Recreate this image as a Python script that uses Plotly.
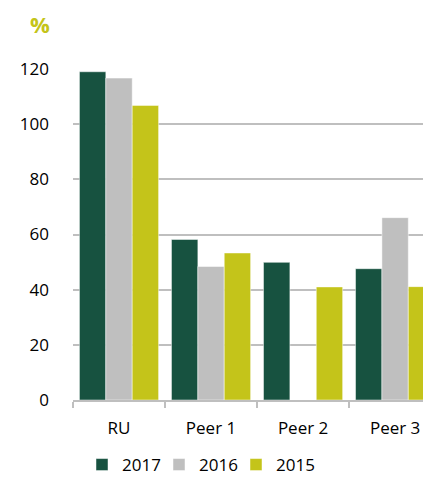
import plotly.graph_objects as go

categories = ["RU", "Peer 1", "Peer 2", "Peer 3"]
v2017 = [119, 58.2, 49.9, 47.6]
v2016 = [116.7, 48.4, None, 66.1]
v2015 = [106.8, 53.3, 41, 41.1]
series_names = ["2017", "2016", "2015"]
colors = ["#175240", "#BFBFBF", "#C4C41A"]
y_ticks = [0, 20, 40, 60, 80, 100, 120]

W, H = 423, 470
L, R, T, B = 65, 0, 61, 78
pw, ph = W - L - R, H - T - B

legend_ids = ["legend", "legend2", "legend3"]
legend_x = [74, 151, 228]

fig = go.Figure()
for name, vals, col, lid in zip(series_names, [v2017, v2016, v2015], colors, legend_ids):
    fig.add_trace(go.Bar(
        x=categories, y=vals, name=name, legend=lid,
        marker=dict(color=col, line=dict(color="rgba(255,255,255,0.6)", width=0.8)),
    ))

fig.update_layout(
    width=W, height=H,
    margin=dict(l=L, r=R, t=T, b=B),
    paper_bgcolor="white", plot_bgcolor="white",
    barmode="group", bargap=0.14, bargroupgap=0,
    font=dict(family="Open Sans", size=17, color="#000000"),
    showlegend=True,
)
for lid, lx in zip(legend_ids, legend_x):
    fig.update_layout({lid: dict(
        orientation="h", x=lx / W, xanchor="left", xref="container",
        y=13 / H, yanchor="middle", yref="container",
        font=dict(size=17), bgcolor="rgba(0,0,0,0)",
    )})

fig.add_annotation(
    text="<b>%</b>", xref="paper", yref="paper",
    x=(31.5 - L) / pw, y=1 + (T - 16) / ph, xanchor="center", yanchor="middle",
    showarrow=False, font=dict(family="Open Sans", size=22, color="#C4C41A"),
)

fig.update_xaxes(
    range=[-0.5, 3.39], tickson="boundaries", ticks="outside", ticklen=6,
    tickcolor="#BFBFBF", tickwidth=2, showline=True, linecolor="#BFBFBF", linewidth=2,
    showgrid=False, ticklabelstandoff=12,
)
fig.update_yaxes(
    range=[0, 120], tickvals=y_ticks, showgrid=True, gridcolor="#BFBFBF", gridwidth=2,
    zeroline=False, showline=False, ticks="", ticklabelstandoff=23,
)

fig.write_html("out.html")
